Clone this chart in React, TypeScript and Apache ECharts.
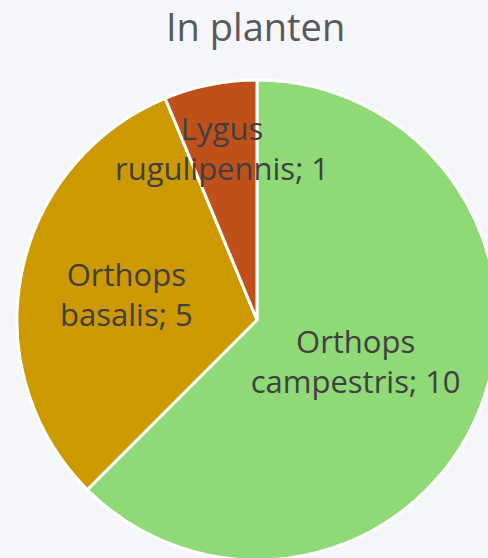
import React, { useEffect, useRef } from "react";
import * as echarts from "echarts";

const categories = ["Orthops campestris", "Orthops basalis", "Lygus rugulipennis"];
const labelLines = [["Orthops", "campestris"], ["Orthops", "basalis"], ["Lygus", "rugulipennis"]];
const values = [10, 5, 1];
const colors = ["#8FD977", "#CC9900", "#C0501A"];
const labelOffsets = [[-15, -6], [-10, -2], [-11, -51]];

export default function App() {
  const ref = useRef<HTMLDivElement>(null);
  useEffect(() => {
    document.body.style.margin = "0";
    const chart = echarts.init(ref.current!, null, { renderer: "svg" });
    chart.setOption({
      animation: false,
      backgroundColor: "#F4F6FA",
      title: {
        text: "In planten",
        left: 161,
        top: 2,
        textStyle: { fontFamily: "Open Sans", fontSize: 38, fontWeight: "normal", color: "#595959" },
      },
      series: [
        {
          type: "pie",
          center: [257, 320],
          radius: 240,
          startAngle: 90,
          clockwise: true,
          itemStyle: { borderColor: "#FFFFFF", borderWidth: 3 },
          label: {
            show: true,
            position: "inside",
            fontFamily: "Open Sans",
            fontSize: 31,
            lineHeight: 40,
            color: "#404040",
            align: "center",
          },
          labelLine: { show: false },
          data: categories.map((c, i) => ({
            name: c,
            value: values[i],
            itemStyle: { color: colors[i] },
            label: {
              formatter: `${labelLines[i][0]}\n${labelLines[i][1]}; ${values[i]}`,
              offset: labelOffsets[i],
            },
          })),
        },
      ],
    });
    return () => chart.dispose();
  }, []);
  return <div ref={ref} style={{ width: 488, height: 558 }} />;
}
